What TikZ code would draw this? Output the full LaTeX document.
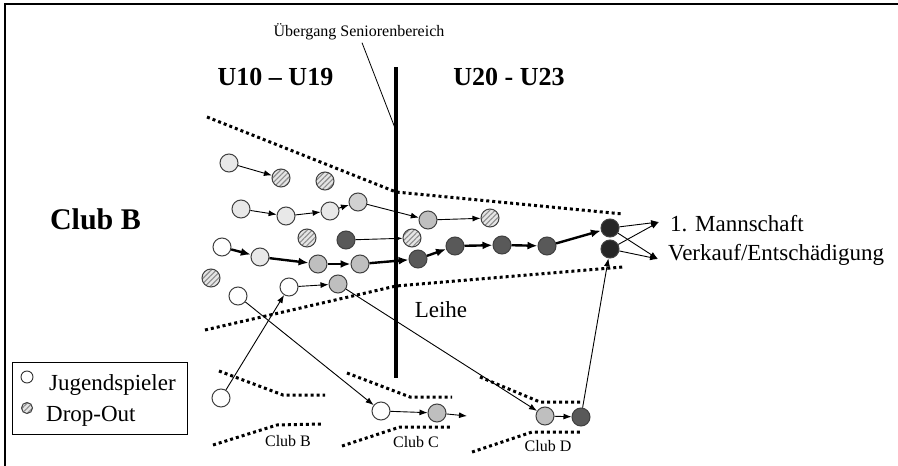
\documentclass[tikz,border=0pt]{standalone}
\usepackage{fontspec}
\setmainfont{Liberation Serif}
\usetikzlibrary{arrows.meta,patterns.meta}
\begin{document}
\begin{tikzpicture}[x=1pt,y=-1pt,
 plbase/.style={circle,draw=black!75,line width=1pt,minimum size=18pt,inner sep=0pt},
 pwhite/.style={plbase,fill=white},
 plight/.style={plbase,fill=black!9},
 pmid/.style={plbase,fill=black!18},
 pgray/.style={plbase,fill=black!25},
 pdark/.style={plbase,fill=black!65},
 pblack/.style={plbase,fill=black!85},
 phatch/.style={plbase,preaction={fill=black!10},pattern={Lines[angle=45,distance=3.6pt,line width=1.1pt]},pattern color=black!45},
 thinarr/.style={line width=0.9pt,-{Latex[length=8pt,width=6pt]}},
 thickarr/.style={line width=2.4pt,-{Latex[length=10pt,width=8pt]}},
 dotline/.style={line width=3pt,dash pattern=on 3pt off 3pt},
 lbltext/.style={font=\fontsize{23}{26}\selectfont,inner sep=0pt},
 smalltext/.style={font=\fontsize{16}{18}\selectfont,inner sep=0pt},
]
\useasboundingbox (0,0) rectangle (898,466);
% frame
\coordinate (f1) at (5,466); \coordinate (f2) at (5,4); \coordinate (f3) at (898,4);
\draw[line width=1.8pt] (f1) -- (f2) -- (f3);

% vertical transition line
\coordinate (vt) at (396,67); \coordinate (vb) at (396,378);
\draw[line width=4pt] (vt) -- (vb);

% texts
\node[smalltext,anchor=base] (ueb) at (359,36) {Übergang Seniorenbereich};
\coordinate (uebp) at (395,128);
\draw[line width=0.8pt] ([xshift=3pt,yshift=-3pt]ueb.south) -- (uebp);
\node[font=\bfseries\fontsize{26}{28}\selectfont,anchor=base,inner sep=0pt] (u1) at (275.5,85) {U10 – U19};
\node[font=\bfseries\fontsize{26}{28}\selectfont,anchor=base,inner sep=0pt] (u2) at (509,85) {U20 - U23};
\node[font=\bfseries\fontsize{30}{32}\selectfont,anchor=base,inner sep=0pt] (club) at (95.5,229) {Club B};
\node[lbltext,anchor=base west] (man) at (670,231) {1. Mannschaft};
\node[lbltext,anchor=base west] (ver) at (668,260) {Verkauf/Entschädigung};
\node[lbltext,anchor=base] (leihe) at (441,317) {Leihe};
\node[smalltext,anchor=base] (clb) at (288,446) {Club B};
\node[smalltext,anchor=base] (clc) at (416,447) {Club C};
\node[smalltext,anchor=base] (cld) at (548,451.5) {Club D};

% legend
\node[draw,line width=1pt,minimum width=175pt,minimum height=72pt,anchor=north west,inner sep=0pt] (leg) at (12,362) {};
\node[circle,draw=black!80,line width=0.9pt,fill=white,minimum size=12pt,inner sep=0pt] (lw) at (27,377) {};
\node[phatch,minimum size=11pt] (lh) at (27,408) {};
\node[lbltext,anchor=base west] (jl) at (49,390) {Jugendspieler};
\node[lbltext,anchor=base west] (dl) at (46,421) {Drop-Out};

% dotted funnel
\coordinate (t1) at (207,117); \coordinate (t2) at (396,192); \coordinate (t3) at (623,214);
\coordinate (b1d) at (205,330); \coordinate (b2d) at (396,286); \coordinate (b3d) at (623,267);
\draw[dotline] (t1) -- (t2) -- (t3);
\draw[dotline] (b1d) -- (b2d) -- (b3d);
% club B
\coordinate (cbu1) at (219,371); \coordinate (cbu2) at (283,395); \coordinate (cbu3) at (325,395);
\coordinate (cbl1) at (213,445); \coordinate (cbl2) at (277,425); \coordinate (cbl3) at (322,424);
\draw[dotline] (cbu1) -- (cbu2) -- (cbu3);
\draw[dotline] (cbl1) -- (cbl2) -- (cbl3);
% club C
\coordinate (ccu1) at (347,373); \coordinate (ccu2) at (410,397); \coordinate (ccu3) at (452,397);
\coordinate (ccl1) at (342,446); \coordinate (ccl2) at (400,427); \coordinate (ccl3) at (451,427);
\draw[dotline] (ccu1) -- (ccu2) -- (ccu3);
\draw[dotline] (ccl1) -- (ccl2) -- (ccl3);
% club D
\coordinate (cdu1) at (480,377); \coordinate (cdu2) at (540,402); \coordinate (cdu3) at (581,402);
\coordinate (cdl1) at (472,452); \coordinate (cdl2) at (532,432); \coordinate (cdl3) at (582,432);
\draw[dotline] (cdu1) -- (cdu2) -- (cdu3);
\draw[dotline] (cdl1) -- (cdl2) -- (cdl3);

% players
\node[plight] (a1) at (229,163) {};
\node[phatch] (h1) at (281,178) {};
\node[phatch] (h2) at (325,181) {};
\node[plight] (r1) at (241,209) {};
\node[plight] (r2) at (286,216) {};
\node[plight] (r3) at (330,211) {};
\node[pmid] (r4) at (358,202) {};
\node[pgray] (r5) at (428,220) {};
\node[phatch] (h3) at (490,218) {};
\node[phatch] (h4) at (307,238) {};
\node[pdark] (c1) at (346,240) {};
\node[phatch] (h5) at (412,238) {};
\node[pwhite] (m1) at (222,247) {};
\node[plight] (m2) at (260,257) {};
\node[pgray] (m3) at (318,264) {};
\node[pgray] (m4) at (360,264) {};
\node[pdark] (m5) at (418,259) {};
\node[pdark] (m6) at (455,246) {};
\node[pdark] (m7) at (502,245) {};
\node[pdark] (m8) at (547,246) {};
\node[pblack] (k1) at (610,228) {};
\node[pblack] (k2) at (610,249) {};
\node[phatch] (h6) at (211,278) {};
\node[pwhite] (w1) at (238,296) {};
\node[pwhite] (w2) at (289,287) {};
\node[pgray] (g1) at (338,284) {};
\node[pwhite] (cb1) at (221,398) {};
\node[pwhite] (cc1) at (381,411) {};
\node[pgray] (cc2) at (437,413) {};
\coordinate (ccend) at (467,416);
\node[pgray] (cd1) at (545,416) {};
\node[pdark] (cd2) at (581,417) {};
\coordinate (manT) at (659,222);
\coordinate (verT) at (658,259);

% thin arrows
\draw[thinarr] (a1) -- (h1);
\draw[thinarr] (r1) -- (r2);
\draw[thinarr] (r2) -- (r3);
\draw[thinarr] (r3) -- (r4);
\draw[thinarr] (r4) -- (r5);
\draw[thinarr] (r5) -- (h3);
\draw[thinarr] (c1) -- (h5);
\draw[thinarr] (w1) -- (cc1);
\draw[thinarr] (cb1) -- (w2);
\draw[thinarr] (w2) -- (g1);
\draw[thinarr] (g1) -- (cd1);
\draw[thinarr] (cd1) -- (cd2);
\draw[thinarr] (cd2) -- (k2);
\draw[thinarr] (cc1) -- (cc2);
\draw[thinarr] (cc2) -- (ccend);
\draw[thinarr] (k1) -- (manT);
\draw[thinarr] (k1) -- (verT);
\draw[thinarr] (k2) -- (manT);
\draw[thinarr] (k2) -- (verT);
% thick path
\draw[thickarr] (m1) -- (m2);
\draw[thickarr] (m2) -- (m3);
\draw[thickarr] (m3) -- (m4);
\draw[thickarr] (m4) -- (m5);
\draw[thickarr] (m5) -- (m6);
\draw[thickarr] (m6) -- (m7);
\draw[thickarr] (m7) -- (m8);
\draw[thickarr] (m8) -- (k1);
\end{tikzpicture}
\end{document}
